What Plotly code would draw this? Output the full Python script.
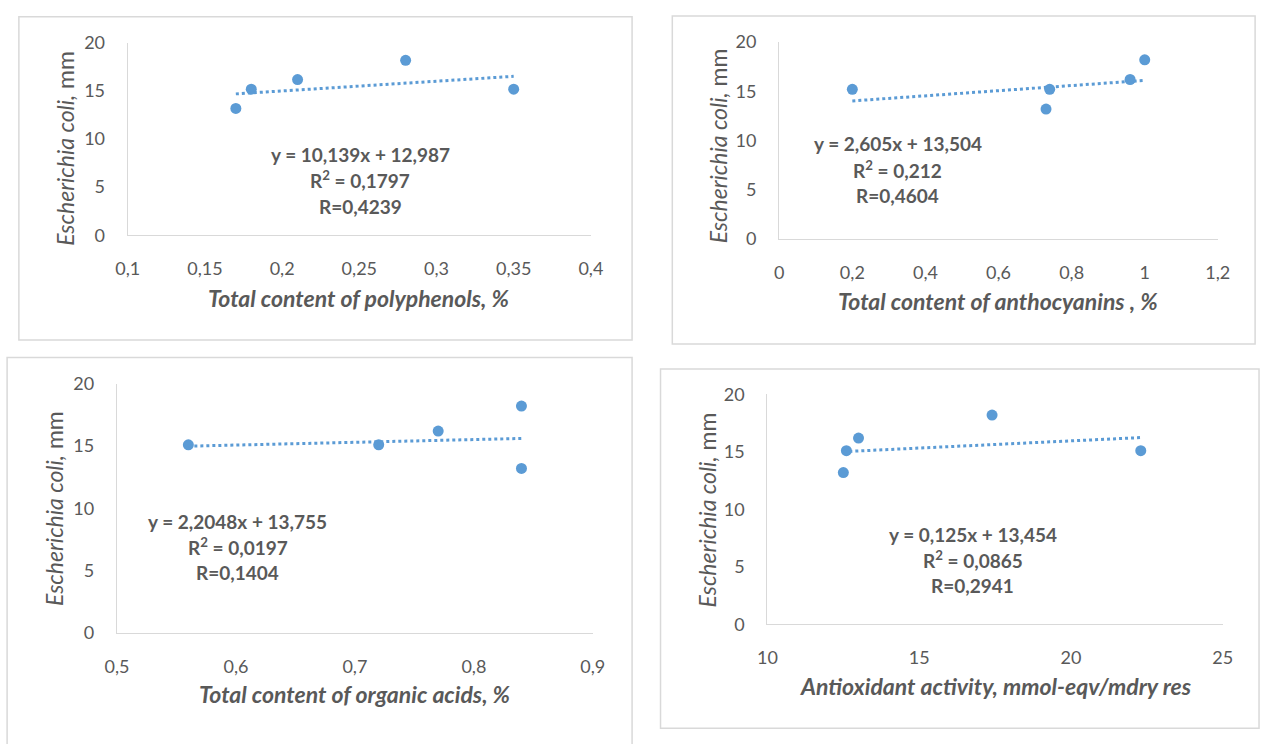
import plotly.graph_objects as go

W, H = 1272, 744

# ---------------- data ----------------
y_ecoli_1 = [13.2, 15.2, 16.2, 18.2, 15.2]
x_polyphenols = [0.17, 0.18, 0.21, 0.28, 0.35]

y_ecoli_2 = [15.2, 13.2, 15.2, 16.2, 18.2]
x_anthocyanins = [0.20, 0.73, 0.74, 0.96, 1.00]

y_ecoli_3 = [15.1, 15.1, 16.2, 18.2, 13.2]
x_organic_acids = [0.56, 0.72, 0.77, 0.84, 0.84]

y_ecoli_4 = [13.2, 15.1, 16.2, 18.2, 15.1]
x_antioxidant = [12.5, 12.6, 13.0, 17.4, 22.3]

trend_slopes = [10.139, 2.605, 2.2048, 0.125]
trend_intercepts = [12.987, 13.504, 13.755, 13.454]

eq_texts = [
    ["y = 10,139x + 12,987", "R<sup>2</sup> = 0,1797", "R=0,4239"],
    ["y = 2,605x + 13,504", "R<sup>2</sup> = 0,212", "R=0,4604"],
    ["y = 2,2048x + 13,755", "R<sup>2</sup> = 0,0197", "R=0,1404"],
    ["y = 0,125x + 13,454", "R<sup>2</sup> = 0,0865", "R=0,2941"],
]

x_titles = [
    "Total content of polyphenols, %",
    "Total content of anthocyanins , %",
    "Total content of organic acids, %",
    "Antioxidant activity, mmol-eqv/mdry res",
]
y_title = "<i>Escherichia coli,</i> mm"

x_tickvals = [
    [0.1, 0.15, 0.2, 0.25, 0.3, 0.35, 0.4],
    [0, 0.2, 0.4, 0.6, 0.8, 1.0, 1.2],
    [0.5, 0.6, 0.7, 0.8, 0.9],
    [10, 15, 20, 25],
]
x_ticktext = [
    ["0,1", "0,15", "0,2", "0,25", "0,3", "0,35", "0,4"],
    ["0", "0,2", "0,4", "0,6", "0,8", "1", "1,2"],
    ["0,5", "0,6", "0,7", "0,8", "0,9"],
    ["10", "15", "20", "25"],
]
y_tickvals = [0, 5, 10, 15, 20]
y_ticktext = ["0", "5", "10", "15", "20"]

# ---------------- layout geometry (pixels) ----------------
panels = [
    dict(plot=(118, 590, 32, 230), box=(7, 632, 5, 338), xr=[0.1, 0.4],
         ytitle=(54, 140), xtitle=(354, 295), eq=(355, [147, 173, 200])),
    dict(plot=(782, 1229, 31, 234), box=(673, 1267, 4, 342), xr=[0, 1.2],
         ytitle=(719, 138), xtitle=(1005, 298), eq=(903, [136, 162, 189])),
    dict(plot=(107, 592, 383, 640), box=(-5, 632, 356, 760), xr=[0.5, 0.9],
         ytitle=(43, 512), xtitle=(350, 703), eq=(230, [525, 551, 578])),
    dict(plot=(770, 1234, 394, 631), box=(661, 1271, 368, 738), xr=[10, 25],
         ytitle=(708, 513), xtitle=(1003, 695), eq=(979, [538, 564, 591])),
]

xs_all = [x_polyphenols, x_anthocyanins, x_organic_acids, x_antioxidant]
ys_all = [y_ecoli_1, y_ecoli_2, y_ecoli_3, y_ecoli_4]

BLUE = "#5B9BD5"
GRAY_TXT = "#595959"
AXIS_LINE = "#D9D9D9"
FONT = "Lato"

fig = go.Figure()
shapes = []
annotations = []

def px(x):
    return x / W

def py(y):
    return 1 - y / H

for i, p in enumerate(panels):
    n = "" if i == 0 else str(i + 1)
    xa, ya = "x" + n, "y" + n
    xs, ys = xs_all[i], ys_all[i]
    # scatter points
    fig.add_trace(go.Scatter(x=xs, y=ys, mode="markers", xaxis=xa, yaxis=ya,
                             marker=dict(color=BLUE, size=11), showlegend=False,
                             cliponaxis=False))
    # linear trend
    x0, x1 = min(xs), max(xs)
    tx = [x0, x1]
    ty = [trend_slopes[i] * v + trend_intercepts[i] for v in tx]
    fig.add_trace(go.Scatter(x=tx, y=ty, mode="lines", xaxis=xa, yaxis=ya,
                             line=dict(color=BLUE, width=3, dash="dot"),
                             showlegend=False))
    l, r, t, b = p["plot"]
    xkey = "xaxis" + n
    ykey = "yaxis" + n
    fig.update_layout(**{
        xkey: dict(domain=[px(l), px(r)], range=p["xr"], anchor=ya,
                   showgrid=False, zeroline=False, showline=True,
                   linecolor=AXIS_LINE, linewidth=1.3,
                   tickvals=x_tickvals[i], ticktext=x_ticktext[i],
                   ticks="outside", ticklen=0, tickcolor="white",
                   ticklabelstandoff=17,
                   tickfont=dict(family=FONT, size=18, color=GRAY_TXT)),
        ykey: dict(domain=[py(b), py(t)], range=[0, 20], anchor=xa,
                   showgrid=False, zeroline=False, showline=True,
                   linecolor=AXIS_LINE, linewidth=1.3,
                   tickvals=y_tickvals, ticktext=y_ticktext,
                   ticks="outside", ticklen=0, tickcolor="white",
                   ticklabelstandoff=18,
                   tickfont=dict(family=FONT, size=18, color=GRAY_TXT)),
    })
    bl, br, bt, bb = p["box"]
    shapes.append(dict(type="rect", xref="paper", yref="paper",
                       x0=px(bl), x1=px(br), y0=py(bb), y1=py(bt),
                       line=dict(color="#D9D9D9", width=1.5),
                       fillcolor="rgba(0,0,0,0)", layer="below"))
    # axis titles
    annotations.append(dict(xref="paper", yref="paper", x=px(p["xtitle"][0]),
                            y=py(p["xtitle"][1]), text="<b><i>" + x_titles[i] + "</i></b>",
                            showarrow=False, xanchor="center", yanchor="middle",
                            font=dict(family=FONT, size=23, color=GRAY_TXT)))
    annotations.append(dict(xref="paper", yref="paper", x=px(p["ytitle"][0]),
                            y=py(p["ytitle"][1]), text=y_title, textangle=-90,
                            showarrow=False, xanchor="center", yanchor="middle",
                            font=dict(family=FONT, size=23, color=GRAY_TXT)))
    ex, eys = p["eq"]
    for line_txt, ey in zip(eq_texts[i], eys):
        annotations.append(dict(xref="paper", yref="paper", x=px(ex), y=py(ey),
                                text="<b>" + line_txt + "</b>", showarrow=False,
                                xanchor="center", yanchor="middle",
                                font=dict(family=FONT, size=19, color=GRAY_TXT)))

fig.update_layout(width=W, height=H, margin=dict(l=0, r=0, t=0, b=0),
                  paper_bgcolor="white", plot_bgcolor="white",
                  shapes=shapes, annotations=annotations,
                  separators=", ", showlegend=False)

fig.write_html("out.html",
               post_script="document.body.style.margin='0';document.body.style.padding='0';document.body.style.overflow='hidden';")
